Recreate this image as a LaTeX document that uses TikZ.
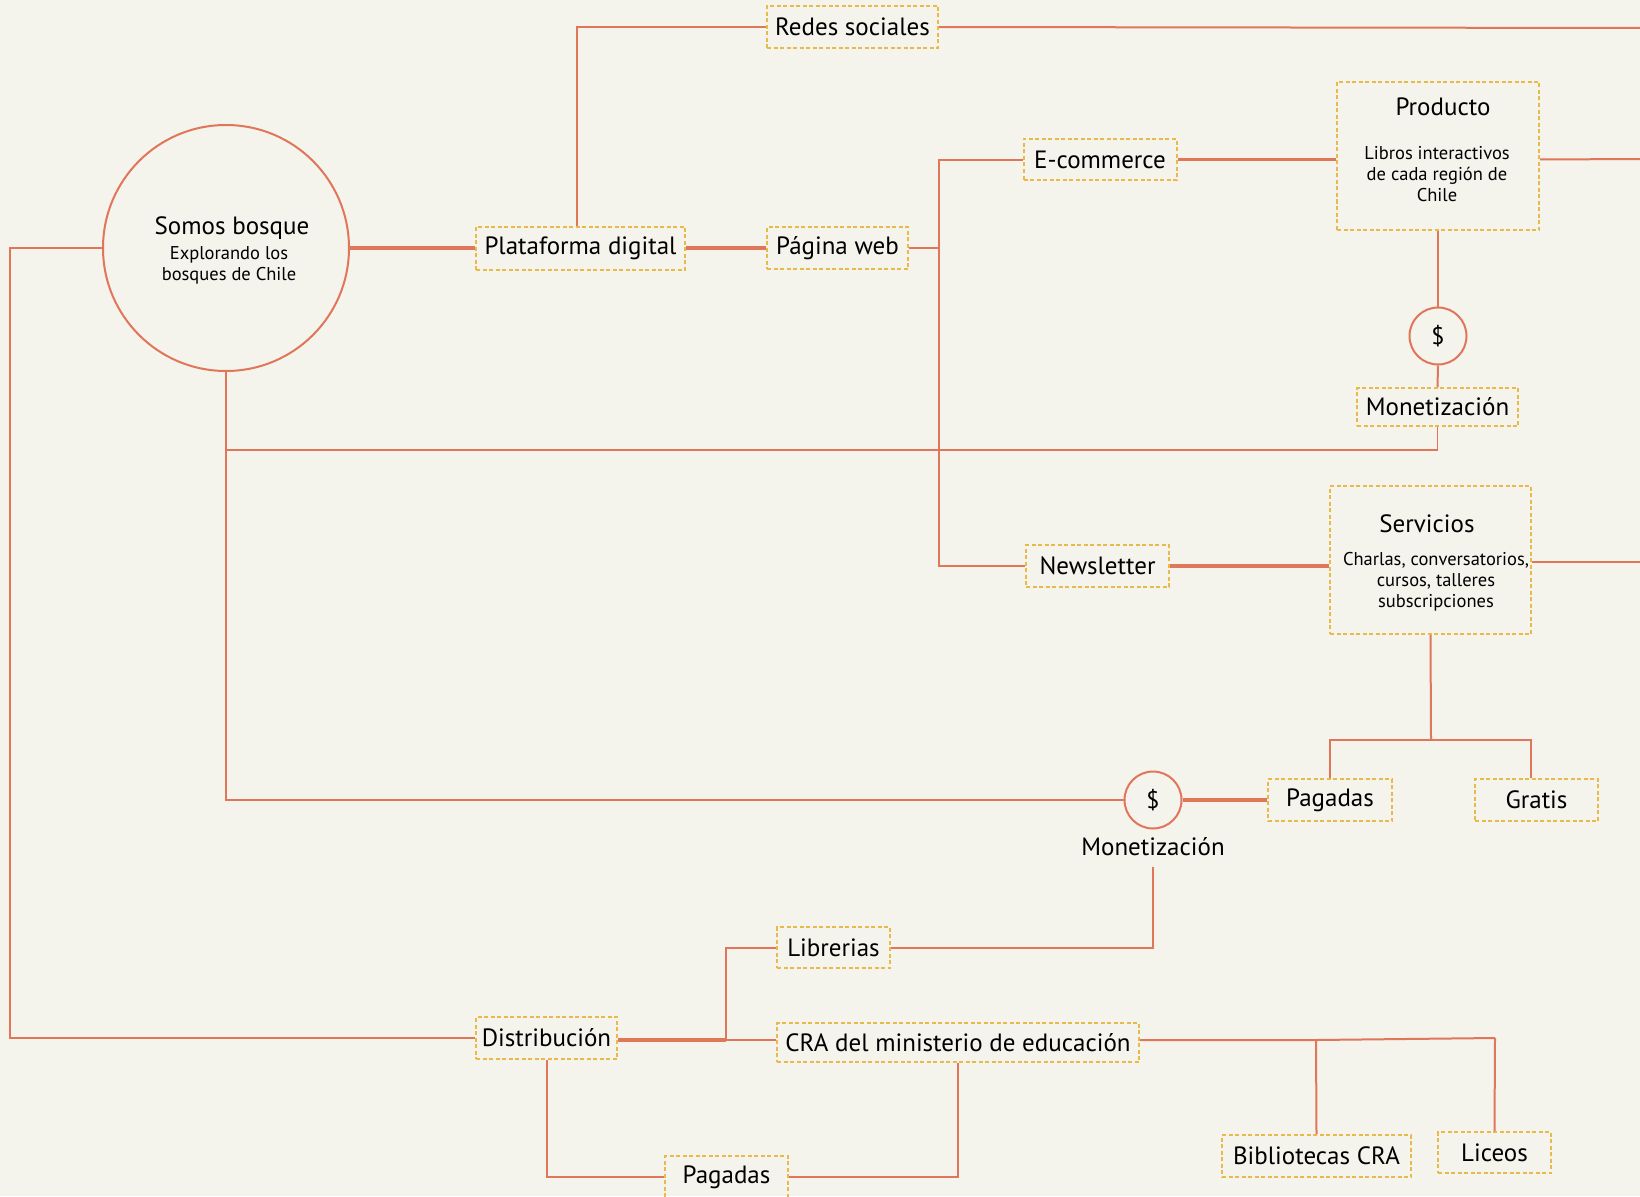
\documentclass[tikz,border=0pt]{standalone}
\usepackage{fontspec}
\setmainfont{PT Sans}
\definecolor{bg}{HTML}{F4F3EC}
\definecolor{ln}{HTML}{E0765A}
\definecolor{bx}{HTML}{E9B949}
\begin{document}
\begin{tikzpicture}[x=1pt,y=-1pt,
  lbox/.style={draw=bx,line width=2pt,dash pattern=on 4pt off 2.5pt,inner sep=0pt,
    font=\fontsize{25}{28}\selectfont,text=black},
  bigtxt/.style={font=\fontsize{25}{28}\selectfont,inner sep=0pt},
  smalltxt/.style={font=\fontsize{18.5}{21}\selectfont,align=center,inner sep=0pt},
  conn/.style={draw=ln,line width=2pt},
  thick conn/.style={draw=ln,line width=3.5pt},
  thin conn/.style={draw=ln,line width=1.6pt},
  dollar/.style={circle,draw=ln,line width=2pt,minimum size=57pt,inner sep=0pt,
    font=\fontsize{24}{26}\selectfont}]
\fill[bg] (0,0) rectangle (1640,1196);
\useasboundingbox (0,0) rectangle (1640,1196);

% nodes
\node[circle,draw=ln,line width=2pt,minimum size=246pt,inner sep=0pt] (circ) at (226,248) {};
\node[bigtxt] (circT) at (232,228) {Somos bosque};
\node[smalltxt] (circB) at (229,265) {Explorando los\\ bosques de Chile};

\node[lbox,minimum width=209pt,minimum height=43pt] (plat) at (580.5,248) {Plataforma digital};
\node[lbox,minimum width=141pt,minimum height=42pt] (web) at (837.5,248) {Página web};
\node[lbox,minimum width=171pt,minimum height=42pt] (redes) at (852.5,27) {Redes sociales};
\node[lbox,minimum width=153pt,minimum height=41pt] (ecom) at (1100,159.5) {E-commerce};
\node[lbox,minimum width=202pt,minimum height=148pt] (prod) at (1438,156) {};
\node[bigtxt] (prodT) at (1443,107) {Producto};
\node[smalltxt] (prodB) at (1437,174) {Libros interactivos\\ de cada región de\\ Chile};
\node[dollar] (dol1) at (1438,336) {\$};
\node[lbox,minimum width=161pt,minimum height=38pt] (mon1) at (1437.5,407) {Monetización};

\node[lbox,minimum width=143pt,minimum height=42pt] (news) at (1097.5,566) {Newsletter};
\node[lbox,minimum width=201pt,minimum height=148pt] (serv) at (1430.5,560) {};
\node[bigtxt] (servT) at (1427,524) {Servicios};
\node[smalltxt] (servB) at (1436,582) {Charlas, conversatorios,\\ cursos, talleres\\ subscripciones};

\node[dollar] (dol2) at (1153,800) {\$};
\node[bigtxt] (monL) at (1153,847) {Monetización};
\node[lbox,minimum width=124pt,minimum height=42pt] (pag1) at (1330,800) {Pagadas};
\node[lbox,minimum width=123pt,minimum height=42pt] (grat) at (1536.5,800) {Gratis};

\node[lbox,minimum width=113pt,minimum height=41pt] (lib) at (833.5,947.5) {Librerias};
\node[lbox,minimum width=141pt,minimum height=42pt] (dist) at (546.5,1038) {Distribución};
\node[lbox,minimum width=362pt,minimum height=39pt] (cra) at (958,1042.5) {CRA del ministerio de educación};
\node[lbox,minimum width=123pt,minimum height=42pt] (pag2) at (726.5,1177) {Pagadas};
\node[lbox,minimum width=189pt,minimum height=42pt] (bib) at (1316.5,1156) {Bibliotecas CRA};
\node[lbox,minimum width=113pt,minimum height=41pt] (lic) at (1494.5,1152.5) {Liceos};

% junction coordinates
\coordinate (e1) at (1640,28);
\coordinate (e2) at (1640,159);
\coordinate (e3) at (1640,562);
\coordinate (j1) at (939,248);
\coordinate (j2) at (226,450);
\coordinate (j3) at (1431,740);
\coordinate (j4) at (10,248);
\coordinate (j5) at (726,1040);
\coordinate (j6) at (1316,1040);
\coordinate (j7) at (1495,1038);
\coordinate (j8) at (1153,867);

% connectors
\draw[thick conn] (circ.east) -- (plat.west);
\draw[conn] (plat.north -| 577,0) |- (redes.west);
\draw[conn] (redes.east) -- (e1);
\draw[thick conn] (plat.east) -- (web.west);
\draw[conn] (web.east) -- (j1);
\draw[conn] (ecom.west) -| (j1) |- (news.west);
\draw[thick conn] (ecom.east) -- (prod.west |- ecom.east);
\draw[conn] (prod.east |- ecom.east) -- (e2);
\draw[conn] (prod.south) -- (dol1.north);
\draw[conn] (dol1.south) -- (mon1.north);
\draw[thin conn] (mon1.south) |- (j2);
\draw[conn] (circ.south) |- (dol2.west);
\draw[thick conn] (dol2.east) -- (pag1.west);
\draw[thick conn] (news.east) -- (serv.west |- news.east);
\draw[conn] (serv.east |- e3) -- (e3);
\draw[conn] (serv.south) -- (j3);
\draw[conn] (pag1.north) |- (j3) -| (grat.north -| 1531,0);
\draw[conn] (j8) |- (lib.east);
\draw[conn] (circ.west) -- (j4) |- (dist.west);
\draw[thick conn] (dist.east |- j5) -- (j5);
\draw[conn] (lib.west) -| (j5);
\draw[conn] (j5) -- (cra.west |- j5);
\draw[conn] (dist.south) |- (pag2.west);
\draw[conn] (pag2.east) -| (cra.south);
\draw[conn] (cra.east |- j5) -- (j6) -- (j7);
\draw[conn] (j6) -- (bib.north);
\draw[conn] (j7) -- (lic.north);
\end{tikzpicture}
\end{document}
